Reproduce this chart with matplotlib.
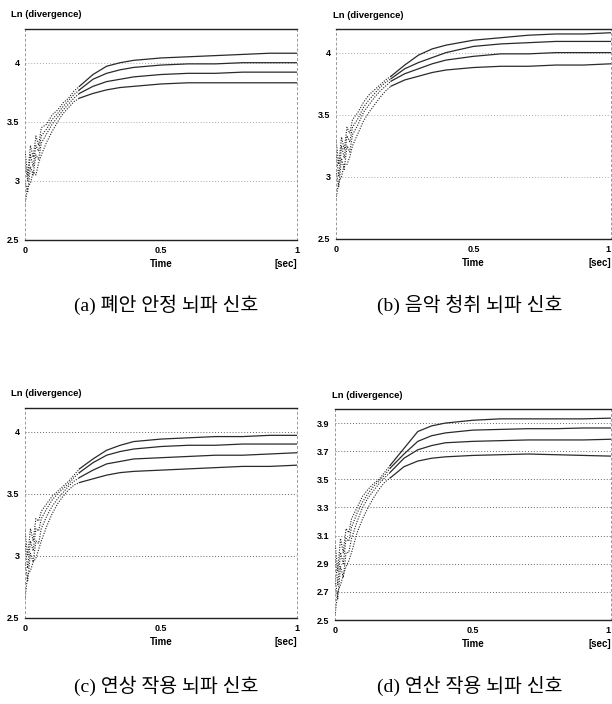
import matplotlib
matplotlib.use("Agg")
import matplotlib.pyplot as plt

# time axis shared by all four panels [sec]
t = [0, 0.01, 0.02, 0.03, 0.04, 0.05, 0.06, 0.08, 0.10, 0.12, 0.14, 0.16,
     0.18, 0.20, 0.25, 0.30, 0.35, 0.40, 0.50, 0.60, 0.70, 0.80, 0.90, 1.00]

# (a) resting with eyes closed
a1 = [3.25, 3.05, 3.30, 3.20, 3.38, 3.30, 3.45, 3.48, 3.56, 3.60, 3.66, 3.70, 3.76, 3.80, 3.90, 3.97, 4.00, 4.02, 4.04, 4.05, 4.06, 4.07, 4.08, 4.08]
a2 = [3.15, 3.00, 3.22, 3.12, 3.30, 3.25, 3.38, 3.44, 3.52, 3.57, 3.63, 3.68, 3.73, 3.77, 3.86, 3.91, 3.94, 3.96, 3.98, 3.99, 3.99, 4.00, 4.00, 4.00]
a3 = [3.00, 2.90, 3.12, 3.05, 3.22, 3.18, 3.32, 3.40, 3.48, 3.54, 3.60, 3.65, 3.70, 3.74, 3.80, 3.84, 3.86, 3.88, 3.90, 3.91, 3.91, 3.92, 3.92, 3.92]
a4 = [2.80, 2.95, 2.98, 3.08, 3.05, 3.15, 3.22, 3.33, 3.42, 3.50, 3.57, 3.62, 3.67, 3.70, 3.74, 3.77, 3.79, 3.80, 3.82, 3.83, 3.83, 3.83, 3.83, 3.83]

# (b) listening to music
b1 = [3.30, 3.10, 3.32, 3.22, 3.40, 3.35, 3.46, 3.52, 3.60, 3.66, 3.70, 3.74, 3.78, 3.81, 3.90, 3.98, 4.03, 4.06, 4.10, 4.12, 4.14, 4.15, 4.15, 4.16]
b2 = [3.20, 3.00, 3.25, 3.15, 3.33, 3.28, 3.40, 3.47, 3.56, 3.62, 3.67, 3.72, 3.76, 3.79, 3.87, 3.92, 3.96, 4.00, 4.05, 4.07, 4.08, 4.09, 4.09, 4.09]
b3 = [3.05, 2.92, 3.15, 3.06, 3.25, 3.20, 3.34, 3.42, 3.52, 3.58, 3.64, 3.69, 3.73, 3.77, 3.83, 3.87, 3.91, 3.94, 3.97, 3.99, 3.99, 4.00, 4.00, 4.00]
b4 = [2.82, 2.96, 3.00, 3.10, 3.10, 3.16, 3.25, 3.35, 3.45, 3.52, 3.58, 3.64, 3.69, 3.73, 3.78, 3.81, 3.84, 3.86, 3.88, 3.89, 3.89, 3.90, 3.90, 3.91]

# (c) association task
c1 = [3.20, 3.00, 3.22, 3.12, 3.30, 3.28, 3.36, 3.42, 3.48, 3.52, 3.56, 3.60, 3.65, 3.70, 3.78, 3.85, 3.89, 3.92, 3.94, 3.95, 3.96, 3.96, 3.97, 3.97]
c2 = [3.10, 2.90, 3.12, 3.04, 3.22, 3.20, 3.30, 3.38, 3.45, 3.50, 3.54, 3.58, 3.63, 3.67, 3.75, 3.81, 3.84, 3.86, 3.88, 3.89, 3.89, 3.90, 3.90, 3.90]
c3 = [2.95, 2.80, 3.02, 2.95, 3.12, 3.10, 3.22, 3.32, 3.40, 3.46, 3.51, 3.56, 3.60, 3.63, 3.69, 3.74, 3.76, 3.78, 3.79, 3.80, 3.81, 3.81, 3.82, 3.83]
c4 = [2.65, 2.85, 2.88, 2.95, 2.98, 3.05, 3.12, 3.24, 3.34, 3.42, 3.48, 3.53, 3.57, 3.59, 3.62, 3.65, 3.67, 3.68, 3.69, 3.70, 3.71, 3.72, 3.72, 3.73]

# (d) arithmetic task
d1 = [3.05, 2.85, 3.08, 2.98, 3.15, 3.12, 3.22, 3.30, 3.38, 3.43, 3.47, 3.50, 3.55, 3.60, 3.72, 3.84, 3.88, 3.90, 3.92, 3.93, 3.93, 3.93, 3.93, 3.935]
d2 = [2.95, 2.75, 2.98, 2.90, 3.08, 3.06, 3.16, 3.26, 3.34, 3.40, 3.45, 3.49, 3.53, 3.58, 3.68, 3.77, 3.81, 3.83, 3.85, 3.855, 3.86, 3.86, 3.865, 3.865]
d3 = [2.80, 2.65, 2.88, 2.80, 2.98, 2.98, 3.08, 3.20, 3.30, 3.37, 3.42, 3.47, 3.51, 3.55, 3.65, 3.71, 3.74, 3.76, 3.77, 3.775, 3.78, 3.78, 3.78, 3.785]
d4 = [2.53, 2.70, 2.75, 2.82, 2.88, 2.92, 2.98, 3.12, 3.22, 3.30, 3.37, 3.43, 3.48, 3.51, 3.59, 3.63, 3.65, 3.66, 3.67, 3.675, 3.68, 3.675, 3.67, 3.665]

yticks_abc = [2.5, 3, 3.5, 4]
ylabels_abc = ["2.5", "3", "3.5", "4"]
yticks_d = [2.5, 2.7, 2.9, 3.1, 3.3, 3.5, 3.7, 3.9]
ylabels_d = ["2.5", "2.7", "2.9", "3.1", "3.3", "3.5", "3.7", "3.9"]
xticks = [0, 0.5, 1]
xlabels = ["0", "0.5", "1"]

captions = ["(a) 폐안 안정 뇌파 신호", "(b) 음악 청취 뇌파 신호",
            "(c) 연상 작용 뇌파 신호", "(d) 연산 작용 뇌파 신호"]

W, H = 612, 704
fig = plt.figure(figsize=(W / 100, H / 100), dpi=100)

# left, top, right, bottom in pixels, ylim top, grid colour
panels = [
    ((25, 29, 297, 240), 4.285, [a1, a2, a3, a4], yticks_abc, ylabels_abc, "#aaaaaa"),
    ((336, 29, 611, 239), 4.19, [b1, b2, b3, b4], yticks_abc, ylabels_abc, "#aaaaaa"),
    ((25, 408, 297, 618), 4.19, [c1, c2, c3, c4], yticks_abc, ylabels_abc, "#666666"),
    ((335, 409, 611, 620), 4.0, [d1, d2, d3, d4], yticks_d, ylabels_d, "#666666"),
]
cap_pos = [(166, 305), (470, 305), (166, 686), (470, 686)]

split = t.index(0.20)
for i, (box, ytop, curves, yt, yl, gcol) in enumerate(panels):
    l, tp, r, b = box
    ax = fig.add_axes([l / W, 1 - b / H, (r - l) / W, (b - tp) / H])
    ax.set_xlim(0, 1)
    ax.set_ylim(2.5, ytop)
    for y in curves:
        ax.plot(t[:split + 1], y[:split + 1], color="#222222", lw=0.8,
                ls=(0, (1, 1.3)))
        ax.plot(t[split:], y[split:], color="#2a2a2a", lw=0.9)
    for v in yt[1:]:
        ax.axhline(v, color=gcol, lw=0.7, ls=(0, (1, 2)), zorder=0)
    ax.set_yticks(yt)
    ax.set_yticklabels(yl)
    ax.set_xticks(xticks)
    ax.set_xticklabels(xlabels)
    ax.tick_params(length=0, labelsize=6.5, pad=4)
    for lab in ax.get_xticklabels() + ax.get_yticklabels():
        lab.set_fontweight("bold")
        lab.set_family("Liberation Sans")
    if r > 600:
        ax.get_xticklabels()[-1].set_horizontalalignment("right")
    for s in ("top", "bottom"):
        ax.spines[s].set_color("#222222")
        ax.spines[s].set_linewidth(1.0)
    for s in ("left", "right"):
        ax.spines[s].set_color("#999999")
        ax.spines[s].set_linewidth(0.7)
        ax.spines[s].set_linestyle((0, (2, 3)))
    ax.annotate("Ln (divergence)", xy=(0, 1), xycoords="axes fraction",
                xytext=(-14 if l < 100 else -3, 14), textcoords="offset pixels",
                ha="left", va="center", fontsize=6.8, fontweight="bold",
                family="Liberation Sans")
    ax.annotate("Time", xy=(0.5, 0), xycoords="axes fraction",
                xytext=(0, -24), textcoords="offset pixels",
                ha="center", va="center", fontsize=7, fontweight="bold",
                family="Liberation Sans")
    ax.annotate("[sec]", xy=(1, 0), xycoords="axes fraction",
                xytext=(0, -24), textcoords="offset pixels",
                ha="right", va="center", fontsize=7, fontweight="bold",
                family="Liberation Sans")
    cx, cy = cap_pos[i]
    fig.text(cx / W, 1 - cy / H, captions[i], ha="center", va="center",
             fontsize=14, family=["Liberation Serif", "Noto Sans CJK KR"])

fig.savefig("out.png", dpi=100, facecolor="white")
